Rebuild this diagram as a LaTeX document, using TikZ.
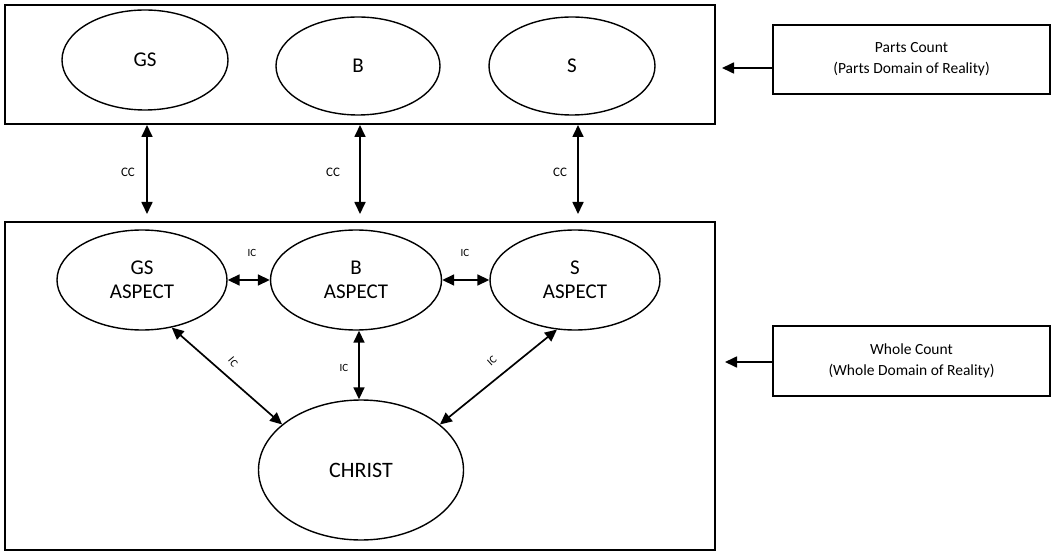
\documentclass[tikz,border=0pt]{standalone}
\usepackage{fontspec}
\setmainfont{Carlito}
\usetikzlibrary{shapes.geometric,arrows.meta}
\begin{document}
\begin{tikzpicture}[x=1pt,y=-1pt,
  frame/.style={draw,line width=1.6pt,inner sep=0pt},
  oval/.style={draw,ellipse,line width=1.4pt,inner sep=0pt,font=\fontsize{21}{24}\selectfont,align=center},
  infobox/.style={draw,line width=1.5pt,inner sep=0pt,align=center,font=\fontsize{15.5}{21}\selectfont},
  link/.style={line width=1.7pt,{Triangle[length=12pt,width=11pt]}-{Triangle[length=12pt,width=11pt]}},
  point/.style={line width=1.7pt,-{Triangle[length=12pt,width=11pt]}},
  lab/.style={font=\fontsize{13}{14}\selectfont,inner sep=1pt},
  slab/.style={font=\fontsize{11}{12}\selectfont,inner sep=0pt}]
\useasboundingbox (0,0) rectangle (1051,553);
% frames
\node[frame,minimum width=710pt,minimum height=119pt] (top) at (360,64.5) {};
\node[frame,minimum width=710pt,minimum height=328pt] (bot) at (360,386) {};
% top ellipses
\node[oval,minimum width=166pt,minimum height=100pt] (gs) at (145,60) {GS};
\node[oval,minimum width=164pt,minimum height=98pt] (b) at (358,66) {B};
\node[oval,minimum width=166pt,minimum height=98pt] (s) at (572,66) {S};
% aspect ellipses
\node[oval,minimum width=170pt,minimum height=100pt] (gsa) at (142,280) {GS\\ASPECT};
\node[oval,minimum width=171pt,minimum height=100pt] (ba) at (356,280) {B\\ASPECT};
\node[oval,minimum width=170pt,minimum height=100pt] (sa) at (575,280) {S\\ASPECT};
\node[oval,minimum width=205pt,minimum height=140pt,font=\fontsize{22}{24}\selectfont] (christ) at (361,470) {CHRIST};
% info boxes
\node[infobox,minimum width=277pt,minimum height=69pt] (parts) at (911.5,59.5) {Parts Count\\(Parts Domain of Reality)};
\node[infobox,minimum width=277pt,minimum height=70pt] (whole) at (911.5,361) {Whole Count\\(Whole Domain of Reality)};
% CC links
\coordinate (c1t) at (147,125); \coordinate (c1b) at (147,214);
\coordinate (c2t) at (360,125); \coordinate (c2b) at (360,214);
\coordinate (c3t) at (578,125); \coordinate (c3b) at (578,214);
\draw[link] (c1t) -- (c1b);
\draw[link] (c2t) -- (c2b);
\draw[link] (c3t) -- (c3b);
\node[lab] (cc1) at (128,172) {CC};
\node[lab] (cc2) at (333,172) {CC};
\node[lab] (cc3) at (560,172) {CC};
% IC links
\draw[link] (gsa.east) -- (ba.west);
\draw[link] (ba.east) -- (sa.west);
\node[slab] (ic1) at (252,253) {IC};
\node[slab] (ic2) at (465,253) {IC};
\coordinate (icx) at (359,0);
\draw[link] (ba.south -| icx) -- (christ.north -| icx);
\node[slab] (ic3) at (344,368) {IC};
\draw[link] (gsa.-58) -- (christ.150);
\draw[link] (sa.-110) -- (christ.30);
\node[slab,rotate=-50] (ic4) at (233,362) {IC};
\node[slab,rotate=42] (ic5) at (492,361) {IC};
% pointers
\coordinate (pt) at (722,68);
\coordinate (wt) at (725,362);
\draw[point] (parts.west |- pt) -- (pt);
\draw[point] (whole.west |- wt) -- (wt);
\end{tikzpicture}
\end{document}
